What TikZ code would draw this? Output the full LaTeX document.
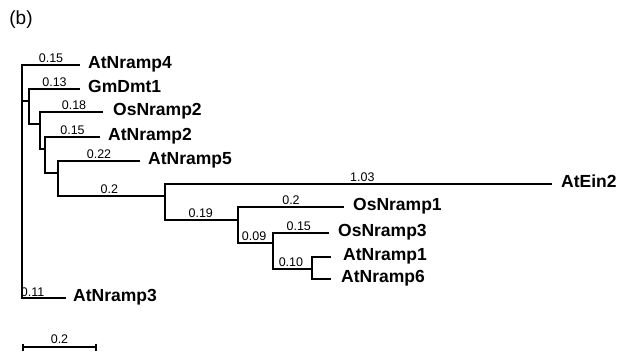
\documentclass[tikz,border=0pt]{standalone}
\usepackage{fontspec}
\setmainfont{Liberation Sans}
\usepackage{tikz}
\usetikzlibrary{arrows.meta,positioning}

\begin{document}
\begin{tikzpicture}[
  x=1pt,y=-1pt,
  leaf/.style={anchor=west,inner xsep=0pt,inner ysep=0pt,text height=0.72em,text depth=0.1em,
    font=\fontsize{17.5}{20}\selectfont\bfseries},
  len/.style={above,inner sep=1.2pt,font=\fontsize{12.5}{13}\selectfont},
  branch/.style={line width=2.7pt,black},
  scalebar/.style={line width=2.4pt,{Bar[width=7pt,line width=1.8pt]}-{Bar[width=7pt,line width=1.8pt]}}
]
  \useasboundingbox (0,0) rectangle (631,351);
  \node[font=\fontsize{19}{22}\selectfont] (panel) at (21,20) {(b)};

  % internal nodes
  \coordinate (root) at (22,101);
  \coordinate (nA) at (29,101);
  \coordinate (nB) at (40,124);
  \coordinate (nC) at (45,149);
  \coordinate (nD) at (58,173);
  \coordinate (nE) at (165,196);
  \coordinate (nF) at (238,220);
  \coordinate (nG) at (273,243);
  \coordinate (nH) at (312,269);

  % leaves
  \node[leaf] (AtNramp4) at (80,65) {\hspace{8pt}AtNramp4};
  \node[leaf] (GmDmt1) at (80,89) {\hspace{8pt}GmDmt1};
  \node[leaf] (OsNramp2) at (103,112) {\hspace{10pt}OsNramp2};
  \node[leaf] (AtNramp2) at (100,137) {\hspace{8pt}AtNramp2};
  \node[leaf] (AtNramp5) at (140,161) {\hspace{8pt}AtNramp5};
  \node[leaf] (AtEin2) at (552,184) {\hspace{9pt}AtEin2};
  \node[leaf] (OsNramp1) at (344,207) {\hspace{9pt}OsNramp1};
  \node[leaf] (OsNramp3) at (329,233) {\hspace{9pt}OsNramp3};
  \node[leaf] (AtNramp1) at (331,257) {\hspace{12pt}AtNramp1};
  \node[leaf] (AtNramp6) at (331,279) {\hspace{10pt}AtNramp6};
  \node[leaf] (AtNramp3) at (66,298) {\hspace{7pt}AtNramp3};

  \draw[branch] (root) |- node[len,pos=.75]{0.15} (AtNramp4.west);
  \draw[branch] (root) -- (nA);
  \draw[branch] (root) |- node[len,pos=.62,inner sep=0.3pt]{0.11} (AtNramp3.west);
  \draw[branch] (nA) |- node[len,pos=.75]{0.13} (GmDmt1.west);
  \draw[branch] (nA) |- (nB);
  \draw[branch] (nB) |- node[len,pos=.77]{0.18} (OsNramp2.west);
  \draw[branch] (nB) |- (nC);
  \draw[branch] (nC) |- node[len,pos=.75]{0.15} (AtNramp2.west);
  \draw[branch] (nC) |- (nD);
  \draw[branch] (nD) |- node[len,pos=.75]{0.22} (AtNramp5.west);
  \draw[branch] (nD) |- node[len,pos=.74]{0.2} (nE);
  \draw[branch] (nE) |- node[len,pos=.755]{1.03} (AtEin2.west);
  \draw[branch] (nE) |- node[len,pos=.745]{0.19} (nF);
  \draw[branch] (nF) |- node[len,pos=.75]{0.2} (OsNramp1.west);
  \draw[branch] (nF) |- node[len,pos=.73]{0.09} (nG);
  \draw[branch] (nG) |- node[len,pos=.73]{0.15} (OsNramp3.west);
  \draw[branch] (nG) |- node[len,pos=.73]{0.10} (nH);
  \draw[branch] (nH) |- (AtNramp1.west);
  \draw[branch] (nH) |- (AtNramp6.west);

  % scale
  \coordinate (sbL) at (22,347);
  \coordinate (sbR) at (97,347);
  \draw[scalebar] (sbL) -- node[len,inner sep=2.5pt]{0.2} (sbR);
\end{tikzpicture}
\end{document}
